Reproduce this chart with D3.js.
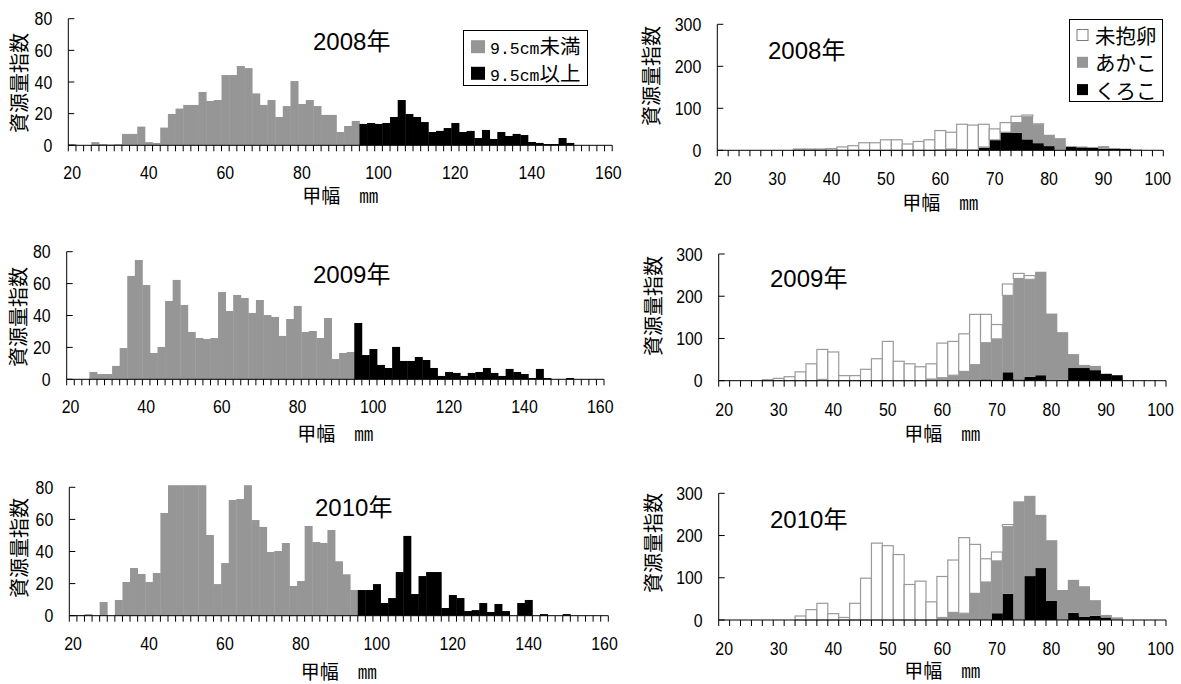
<!DOCTYPE html>
<html><head><meta charset="utf-8">
<script src="https://cdn.jsdelivr.net/npm/d3@7"></script>
<style>
body{margin:0;background:#fff}
</style></head><body>
<svg id="c" width="1181" height="684" xmlns="http://www.w3.org/2000/svg"></svg>
<script>
// ---------- data ----------
const leftCats = d3.range(20, 161, 2);      // 甲幅 class (mm), 2 mm bins
const rightCats = d3.range(20, 101, 2);
const leftTickLabels = [20, 40, 60, 80, 100, 120, 140, 160];
const rightTickLabels = [20, 30, 40, 50, 60, 70, 80, 90, 100];
const leftYTicks = [0, 20, 40, 60, 80];
const rightYTicks = [0, 100, 200, 300];
const yearTitles = ["2008年", "2009年", "2010年"];
const leftLegendLabels = [["9.5cm", "未満"], ["9.5cm", "以上"]];
const rightLegendLabels = ["未抱卵", "あかこ", "くろこ"];
const yLabel = "資源量指数";
const xLabel = "甲幅　㎜";

// left panels: <9.5cm (classes 20..94) and >=9.5cm (classes 96..160)
const small2008 = [0.8,0,0,2,0.8,0.5,0.8,7.2,7.2,11.8, 2,1.5,11.2,19.8,23.2,25.5,25.5,33.7,28,28.6,
  44.4,44.4,50.1,48.8,32.8,25.5,28.6,17.9,24.8,40.6, 26.1,28.6,24.8,19.2,19.2,8.4,12.2,15.4];
const large2008 = [13.5,14.1,13.5,14.1,17.9,28.6,19.8,17.9,14.7,8.4, 9.1,10.9,14.1,8.4,9.1,4.6,9.7,4.0,8.4,5.9,
  7.2,6.5,2.1,1.5,0.8,0.8,4.6,1.5,0,0, 0,0,0];
const small2009 = [0,0,0,4.6,3.3,3.3,8.4,19.6,64.8,74.8, 59.1,16.5,20.3,49.1,62.3,46.6,29.7,25.9,25.3,25.9,
  54.7,42.8,52.9,51.0,41.6,49.7,40.3,39.1,27.2,37.8, 46.0,29.7,30.3,25.9,38.4,12.7,16.5,17.1];
const large2009 = [35.3,15.2,19.0,9.0,7.1,20.3,11.5,11.5,14.0,12.1, 7.1,2.1,4.6,4.0,2.1,4.0,4.6,7.1,4.0,2.1,
  6.5,4.6,3.3,0.8,6.5,0.8,0,0,0.8,0, 0,0,0];
const small2010 = [0.4,0.4,1,0,8.5,0,9.8,21,29.7,26, 21,26.6,64,100,100,100,100,100,50.3,19.7,
  32.8,72.1,72.7,100,59.6,55.3,39.7,40.3,45.3,18.5, 21.6,55.9,45.9,45.3,53.4,33.9,25.8,16];
const large2010 = [16,16,19.7,7.9,11,27.2,49.7,13.5,24.7,27.2, 27.2,4.8,12.9,11,2.9,3.5,7.9,2.3,7.3,2.9,
  0,7.9,9.8,0,1,0,0,1,0,0, 0,0,0];

// right panels (classes 20..100): 未抱卵, あかこ, くろこ (stacked)
const noEgg2008 = [0,0,0,0,0,0,0,3,3,3, 4,8,11,18,18,25,25,15,21,25, 46,40,61,59,54,26,23,15,4,1, 0,0,0,0,0,0,0,0,0,0, 0];
const akako2008 = [0,0,0,0,0,0,0,0,0,0, 0,0,0,0,0,0,0,0,0,0, 1,3,1,1,2,0,0,24,54,45, 27,29,2,2,2,6,1,1,2,0, 0];
const kuroko2008 = [0,0,0,0,0,0,0,0,0,0, 0,0,0,0,0,0,0,0,0,0, 0,0,0,0,6,25,43,42,26,17, 10,0,8,7,6,4,4,3,0,0, 0];
const noEgg2009 = [0,0,0,0,2.4,5.5,9.5,21,40,71, 68,12,12,27,52,93,46,40,33,36, 82,80,89,119,67,34,27,12,9,0, 0,0,0,1,0,0,0,0,0,0, 0];
const akako2009 = [0,0,0,0,0,0,0,0,0,3, 0,0,0,0,0,0,0,0,0,4, 7,13,22,38,87,99,182,239,231,245, 159,113,33,5,10,1,0,0,0,0, 0];
const kuroko2009 = [0,0,0,0,0,0,0,0,0,0, 0,0,0,0,0,0,0,0,0,0, 0,0,0,0,3,0,20,3,9,13, 0,2,30,30,25,16,13,0,0,0, 0];
const noEgg2010 = [0,0,0,0,0,0,0,9.5,24.5,39.5, 15,6,39.5,99,182,176,155,84,92,43, 97,124,179,116,55,21,5,0,0,0, 0,0,0,0,0,0,2,0,0,0, 0];
const akako2010 = [0,0,0,0,0,0,0,0,0,0, 0,0,0,0,0,0,0,0,0,0, 6,18,16,63,90,124,159,281,190,126, 144,71,78,72,37,6,3,0,0,0, 0];
const kuroko2010 = [0,0,0,0,0,0,0,0,0,0, 0,0,0,0,0,0,0,0,0,0, 0,0,0,0,0,16,62,0,104,123, 45,0,17,8,10,6,0,0,0,0, 0];

// ---------- layout ----------
const GRAY = "#969696";
const svg = d3.select("#c");
const tickFont = "'Liberation Sans',Arial,sans-serif";
const TICK_SIZE = 18.5, TICK_SX = 0.86;
const cjkFont = "'Noto Sans CJK JP','Noto Sans',sans-serif";
const titleFont = "'Liberation Sans','Noto Sans CJK JP',sans-serif";

const leftPanels = [
  {x0: 68.3, x1: 612.2, yt: 18.7, yb: 145.3, small: small2008, large: large2008, title: yearTitles[0], tx: 313, ty: 50, ylx: 18, yly: 83, xly: 194, legend: true},
  {x0: 66.7, x1: 604.0, yt: 251.7, yb: 379.3, small: small2009, large: large2009, title: yearTitles[1], tx: 313, ty: 283, ylx: 17, yly: 317, xly: 432},
  {x0: 69.3, x1: 608.3, yt: 487.3, yb: 615.7, small: small2010, large: large2010, title: yearTitles[2], tx: 315, ty: 516, ylx: 18, yly: 548, xly: 670}
];
const rightPanels = [
  {x0: 717.3, x1: 1163.3, yt: 24.3, yb: 150.3, noEgg: noEgg2008, akako: akako2008, kuroko: kuroko2008, title: yearTitles[0], tx: 768, ty: 59, ylx: 650, yly: 76, xly: 201, legend: true},
  {x0: 718.7, x1: 1166.0, yt: 254.0, yb: 380.7, noEgg: noEgg2009, akako: akako2009, kuroko: kuroko2009, title: yearTitles[1], tx: 770, ty: 287, ylx: 652, yly: 306, xly: 432},
  {x0: 718.7, x1: 1166.0, yt: 493.3, yb: 620.0, noEgg: noEgg2010, akako: akako2010, kuroko: kuroko2010, title: yearTitles[2], tx: 770, ty: 528, ylx: 652, yly: 543, xly: 669}
];

function drawFrame(g, p, x, y, cats, tickLabels, yTicks, tickPad) {
  // x axis line
  g.append("line").attr("x1", p.x0).attr("x2", p.x1).attr("y1", p.yb).attr("y2", p.yb)
    .attr("stroke", "#000").attr("stroke-width", 1);
  // boundary ticks
  const bounds = cats.map(c => x(c)).concat([x(cats[cats.length - 1]) + x.bandwidth()]);
  g.selectAll("line.bt").data(bounds).join("line").attr("class", "bt")
    .attr("x1", d => d).attr("x2", d => d).attr("y1", p.yb).attr("y2", p.yb + 6)
    .attr("stroke", "#000").attr("stroke-width", 1);
  // x labels at category centres
  const ax = g.append("g").attr("transform", `translate(0,${p.yb})`)
    .call(d3.axisBottom(x).tickValues(tickLabels).tickSize(0).tickPadding(tickPad));
  ax.select(".domain").remove();
  ax.selectAll("text").attr("font-family", tickFont).attr("font-size", TICK_SIZE).attr("fill", "#000")
    .attr("transform", `scale(${TICK_SX},1)`);
  // y axis
  g.append("line").attr("x1", p.x0).attr("x2", p.x0).attr("y1", p.yt).attr("y2", p.yb)
    .attr("stroke", "#000").attr("stroke-width", 1);
  g.selectAll("line.yt").data(yTicks).join("line").attr("class", "yt")
    .attr("x1", p.x0).attr("x2", p.x0 + 6).attr("y1", d => y(d)).attr("y2", d => y(d))
    .attr("stroke", "#000").attr("stroke-width", 1);
  g.selectAll("text.yl").data(yTicks).join("text").attr("class", "yl")
    .attr("transform", d => `translate(${p.x0 - 16},${y(d)}) scale(${TICK_SX},1)`)
    .attr("dy", "0.36em")
    .attr("text-anchor", "end").attr("font-family", tickFont).attr("font-size", TICK_SIZE)
    .text(d => d);
  // axis titles
  g.append("text").attr("transform", `translate(${p.ylx},${p.yly}) rotate(-90)`)
    .attr("text-anchor", "middle").attr("dominant-baseline", "central")
    .attr("font-family", cjkFont).attr("font-size", 20).text(yLabel);
  g.append("text").attr("x", (p.x0 + p.x1) / 2).attr("y", p.xly)
    .attr("text-anchor", "middle").attr("dominant-baseline", "central")
    .attr("font-family", cjkFont).attr("font-size", 19).text(xLabel);
  // year title
  g.append("text").attr("x", p.tx).attr("y", p.ty)
    .attr("font-family", titleFont).attr("font-size", 24).text(p.title);
}

leftPanels.forEach((p, k) => {
  const g = svg.append("g");
  const x = d3.scaleBand().domain(leftCats).range([p.x0, p.x1]).padding(0);
  const y = d3.scaleLinear().domain([0, 80]).range([p.yb, p.yt]);
  const rows = leftCats.map((c, i) => i < p.small.length
    ? {c, v: p.small[i], big: false}
    : {c, v: p.large[i - p.small.length], big: true});
  const cap = 81.3;
  g.selectAll("rect.bar").data(rows.filter(d => d.v > 0)).join("rect").attr("class", "bar")
    .attr("x", d => x(d.c)).attr("width", x.bandwidth() + 0.4)
    .attr("y", d => y(Math.min(d.v, cap))).attr("height", d => y(0) - y(Math.min(d.v, cap)))
    .attr("fill", d => d.big ? "#000" : GRAY);
  drawFrame(g, p, x, y, leftCats, leftTickLabels, leftYTicks, 21);

  if (p.legend) {
    const lg = g.append("g");
    lg.append("rect").attr("x", 463.5).attr("y", 30.5).attr("width", 124).attr("height", 55)
      .attr("fill", "#fff").attr("stroke", "#000").attr("stroke-width", 1);
    leftLegendLabels.forEach((lab, j) => {
      const cy = 46.7 + j * 26.6;
      lg.append("rect").attr("x", 471).attr("y", cy - 6.5).attr("width", 14).attr("height", 13)
        .attr("fill", j === 0 ? GRAY : "#000");
      const t = lg.append("text").attr("x", 490).attr("y", cy + 7.5).attr("font-size", 20);
      t.append("tspan").attr("font-family", "'Liberation Mono','DejaVu Sans Mono',monospace").attr("font-size", 16.5).text(lab[0]);
      t.append("tspan").attr("font-family", cjkFont).attr("font-size", 20.5).text(lab[1]);
    });
  }
});

rightPanels.forEach((p, k) => {
  const g = svg.append("g");
  const x = d3.scaleBand().domain(rightCats).range([p.x0, p.x1]).padding(0);
  const y = d3.scaleLinear().domain([0, 300]).range([p.yb, p.yt]);
  const table = rightCats.map((c, i) => ({c, kuroko: p.kuroko[i], akako: p.akako[i], noEgg: p.noEgg[i]}));
  const keys = ["kuroko", "akako", "noEgg"];
  const series = d3.stack().keys(keys)(table);
  const fills = {kuroko: "#000", akako: GRAY, noEgg: "#fff"};
  series.forEach(s => {
    const sel = g.append("g").selectAll("rect").data(s.filter(d => d[1] - d[0] > 0)).join("rect")
      .attr("x", d => x(d.data.c)).attr("y", d => y(d[1]))
      .attr("height", d => y(d[0]) - y(d[1]))
      .attr("fill", fills[s.key]);
    if (s.key === "noEgg") {
      sel.attr("width", x.bandwidth()).attr("stroke", "#9a9a9a").attr("stroke-width", 1.2);
    } else {
      sel.attr("width", x.bandwidth() + 0.4);
    }
  });
  drawFrame(g, p, x, y, rightCats, rightTickLabels, rightYTicks, 22);

  if (p.legend) {
    const lg = g.append("g");
    lg.append("rect").attr("x", 1069.5).attr("y", 19.5).attr("width", 93).attr("height", 82)
      .attr("fill", "#fff").attr("stroke", "#000").attr("stroke-width", 1);
    rightLegendLabels.forEach((lab, j) => {
      const cy = 35 + j * 27.3;
      lg.append("rect").attr("x", 1077).attr("y", cy - 5.5).attr("width", 11).attr("height", 11)
        .attr("fill", [ "#fff", GRAY, "#000" ][j])
        .attr("stroke", j === 0 ? "#7a7a7a" : "none").attr("stroke-width", 1);
      lg.append("text").attr("x", 1095).attr("y", cy).attr("dominant-baseline", "central")
        .attr("font-family", cjkFont).attr("font-size", 20.5).text(lab);
    });
  }
});
</script>
</body></html>
